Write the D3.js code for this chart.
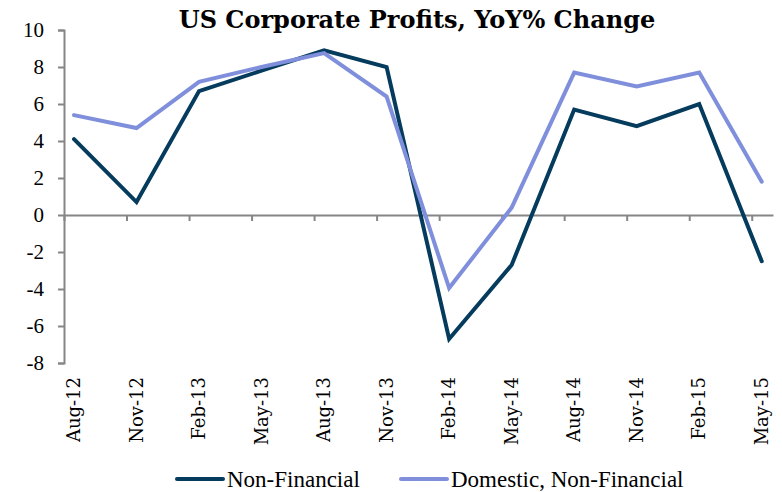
<!DOCTYPE html>
<html><head><meta charset="utf-8">
<script src="https://cdn.jsdelivr.net/npm/d3@7"></script>
<style>body{margin:0;background:#fff}svg{display:block}</style>
</head><body>
<script>
const categories = ["Aug-12","Nov-12","Feb-13","May-13","Aug-13","Nov-13","Feb-14","May-14","Aug-14","Nov-14","Feb-15","May-15"];
const nonFinancial = [4.1, 0.7, 6.7, 7.8, 8.9, 8.0, -6.7, -2.7, 5.7, 4.8, 6.0, -2.5];
const domesticNonFinancial = [5.4, 4.7, 7.2, 8.0, 8.75, 6.4, -3.95, 0.4, 7.7, 6.95, 7.7, 1.8];
const yTicks = [-8, -6, -4, -2, 0, 2, 4, 6, 8, 10];
const seriesNames = ["Non-Financial", "Domestic, Non-Financial"];
const colors = ["#053b5c", "#7f8fdb"];

const W = 782, H = 492;
const svg = d3.select("body").append("svg").attr("width", W).attr("height", H);

const x = d3.scaleLinear().domain([-0.16, 11.18]).range([64, 773]);
const y = d3.scaleLinear().domain([-8, 10]).range([363, 30]);

// title
svg.append("text").attr("x", 417).attr("y", 28).attr("text-anchor", "middle")
  .style("font-family", "'DejaVu Serif', serif").style("font-weight", "bold").style("font-size", "24px")
  .text("US Corporate Profits, YoY% Change");

// y axis
const yAxis = svg.append("g").attr("transform", `translate(${x(-0.16)},0)`)
  .call(d3.axisLeft(y).tickValues(yTicks).tickSize(6).tickPadding(14).tickFormat(d => String(d)));
yAxis.select(".domain").attr("stroke", "#868686").attr("stroke-width", 2);
yAxis.selectAll(".tick line").attr("stroke", "#868686").attr("stroke-width", 2);
yAxis.selectAll(".tick text").style("font-family", "'Liberation Serif', serif").style("font-size", "21px").attr("fill", "#000");

// x axis at y=0
const xTickVals = d3.range(0, 12).map(k => k - 0.16);
const xAxis = svg.append("g").attr("transform", `translate(0,${y(0)})`)
  .call(d3.axisBottom(x).tickValues(xTickVals).tickSize(6).tickSizeOuter(0).tickFormat(""));
xAxis.select(".domain").attr("stroke", "#868686").attr("stroke-width", 2);
xAxis.selectAll(".tick line").attr("stroke", "#868686").attr("stroke-width", 2);

// x category labels
svg.append("g").selectAll("text").data(categories).join("text")
  .attr("transform", (d, i) => `translate(${x(i) + 6},377) rotate(-90)`)
  .attr("text-anchor", "end")
  .style("font-family", "'DejaVu Serif', serif").style("font-size", "18px")
  .text(d => d);

// lines
const line = d3.line().x((d, i) => x(i)).y(d => y(d));
[nonFinancial, domesticNonFinancial].forEach((s, k) => {
  svg.append("path").datum(s).attr("d", line).attr("fill", "none")
    .attr("stroke", colors[k]).attr("stroke-width", 4).attr("stroke-linejoin", "miter").attr("stroke-linecap", "round");
});

// legend
const legendX = [177, 401];
const lg = svg.append("g").selectAll("g").data(seriesNames).join("g")
  .attr("transform", (d, i) => `translate(${legendX[i]},479)`);
lg.append("line").attr("x1", 0).attr("x2", 46).attr("y1", 0).attr("y2", 0)
  .attr("stroke", (d, i) => colors[i]).attr("stroke-width", 4).attr("stroke-linecap", "round");
lg.append("text").attr("x", 50).attr("y", 8)
  .style("font-family", "'Liberation Serif', serif").style("font-size", "23px")
  .text(d => d);
</script>
</body></html>
